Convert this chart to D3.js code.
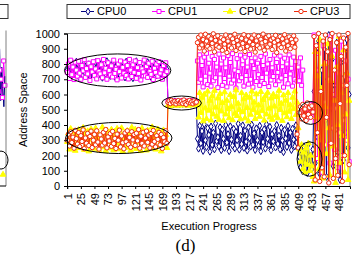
<!DOCTYPE html>
<html><head><meta charset="utf-8">
<script src="https://cdn.jsdelivr.net/npm/d3@7"></script>
<style>body{margin:0;background:#fff}svg{display:block}</style>
</head><body>
<svg id="chart" width="352" height="256"></svg>
<script>
const seriesNames = ["CPU0", "CPU1", "CPU2", "CPU3"];
const xTickLabels = [1,25,49,73,97,121,145,169,193,217,241,265,289,313,337,361,385,409,433,457,481];
const yTickValues = [0,100,200,300,400,500,600,700,800,900,1000];

// samples taken every 2 steps of execution progress (1,3,5,...,499)
const cpu0 = [
760,735,790,712,805,748,770,728,815,742,
795,705,780,760,725,810,738,772,750,798,
715,785,745,768,730,812,755,720,790,740,
802,710,775,758,733,818,747,765,722,795,
740,808,716,780,752,737,800,726,770,745,
790,712,815,758,730,784,748,770,707,796,
742,818,732,765,755,788,720,803,745,776,
730,812,750,768,715,794,738,806,758,725,
782,746,772,735,800,718,790,752,765,
545,538,552,541,548,536,555,543,540,550,
537,547,553,539,544,551,535,546,549,542,
538,554,545,540,548,543,
310,245,395,280,360,230,405,300,255,380,
335,225,390,270,350,240,410,295,320,260,
385,235,370,310,250,400,285,340,228,392,
305,265,375,245,355,300,408,238,330,275,
398,250,362,290,232,385,315,258,402,270,
345,236,378,300,262,395,228,350,288,372,
245,405,310,268,388,234,340,292,360,252,
400,276,330,240,382,298,222,368,312,256,
394,282,350,236,376,304,260,398,318,
250,190,120,230,95,260,150,210,85,275,
140,200,110,240,
620,150,880,320,950,80,540,760,210,900,
430,60,700,990,280,510,830,130,660,370,
940,220,580,40,810,460,170,720,350,960,
250,600];

const cpu1 = [
745,800,705,825,730,780,698,812,760,720,
818,740,700,790,755,828,712,770,735,805,
692,782,748,815,725,768,702,822,752,735,
795,710,830,742,772,700,808,758,728,788,
715,825,738,765,696,800,750,820,708,778,
740,812,725,790,702,830,760,718,795,745,
820,706,776,738,810,695,768,748,826,722,
784,712,805,752,732,818,698,772,745,800,
720,815,740,762,700,790,730,808,750,
556,548,560,542,552,545,558,540,550,555,
538,553,547,561,543,549,557,541,554,546,
559,544,551,548,556,552,
820,680,860,700,790,650,845,720,870,665,
805,740,655,850,690,830,710,780,645,865,
735,800,660,840,705,775,650,855,720,810,
675,868,695,760,642,835,750,690,858,710,
795,655,845,725,780,668,862,700,815,648,
770,840,685,805,730,660,850,712,790,672,
866,740,800,652,830,695,775,718,858,664,
810,745,690,852,708,782,648,838,725,800,
670,860,735,772,655,845,700,815,688,
780,690,840,660,760,510,470,525,445,500,
480,535,455,515,
990,420,760,180,870,330,640,90,920,550,
270,810,460,700,150,980,380,600,240,890,
510,120,740,350,950,200,660,430,820,300,
700,160];

const cpu2 = [
290,345,240,375,310,260,355,232,330,280,
368,250,320,295,382,238,340,270,360,228,
305,372,262,335,245,378,300,350,236,322,
275,385,255,342,230,365,290,315,248,370,
328,235,358,284,376,242,312,264,380,226,
338,296,252,362,274,348,232,384,306,258,
370,244,326,286,352,230,378,268,340,300,
234,364,278,330,250,386,292,356,240,318,
372,262,344,228,310,366,282,336,250,
530,542,526,548,535,528,545,532,538,527,
550,533,540,529,546,536,531,544,527,539,
534,548,530,541,537,532,
530,450,610,480,580,425,600,510,440,620,
495,560,430,590,470,625,515,455,575,435,
605,490,545,428,615,470,560,505,445,598,
520,432,585,475,628,460,540,500,438,610,
485,570,445,595,512,425,580,468,620,498,
548,440,602,480,530,455,618,492,565,430,
590,470,612,508,450,575,435,600,522,462,
585,445,625,500,540,428,595,478,560,452,
610,488,530,440,580,505,620,466,548,
380,240,160,270,110,220,90,250,140,280,
100,200,130,60,
30,880,450,720,110,960,300,640,50,800,
520,210,930,380,70,690,850,260,560,20,
780,400,980,150,610,330,890,90,470,740,
40,560];

const cpu3 = [
300,340,262,355,285,320,248,365,310,275,
350,258,330,292,368,245,315,280,345,265,
325,360,252,300,338,270,362,288,242,335,
308,268,352,282,370,250,322,295,344,260,
358,278,312,246,340,300,366,256,328,284,
244,348,290,362,272,318,254,356,302,338,
266,346,296,370,248,326,280,352,262,314,
360,286,334,250,344,274,364,292,256,330,
306,352,270,338,246,318,290,362,280,
548,558,540,562,550,545,556,538,553,560,
543,551,557,541,564,547,535,555,549,561,
544,553,539,558,546,550,
940,975,905,990,925,960,885,995,950,915,
980,900,965,935,998,880,955,920,985,910,
945,972,890,960,930,990,875,950,918,982,
905,965,940,995,888,955,925,978,900,968,
935,992,882,958,915,985,945,898,970,928,
990,878,952,920,982,905,962,938,996,890,
948,975,912,985,930,958,895,970,942,988,
875,955,925,980,908,965,935,992,885,950,
920,978,900,962,940,985,910,958,340,
250,480,520,440,535,460,505,430,545,470,
515,450,525,485,
980,40,920,350,1000,30,620,120,950,60,
990,450,880,20,960,280,1000,50,760,180,
940,70,990,540,850,30,970,200,910,660,
1000,140];

// highlighted regions: centre (progress, address) and half-extents
const ellipseCx = [90, 92, 203, 431, 429];
const ellipseCy = [758, 315, 544, 479, 177];
const ellipseRx = [94, 94, 35, 21, 22];
const ellipseRy = [108, 102, 46, 75, 113];

// neighbouring panel (c), only its right edge is visible
const panelCPink = [840, 620, 760, 700, 580, 820, 660];
const panelCBlue = [900, 560, 780, 640, 520, 720];

const svg = d3.select("#chart");
const font = "'Liberation Sans', Arial, sans-serif";
const L = 67, R = 350, T = 33.5, B = 186;
const x = d3.scaleLinear().domain([0.5, 500.5]).range([L, R]);
const y = d3.scaleLinear().domain([0, 1000]).range([B, T]);

const colors = ["#000080", "#ff00ff", "#ffff00", "#f02a0a"];
const symbols = [d3.symbolDiamond, d3.symbolSquare, d3.symbolTriangle, d3.symbolCircle];
const symSize = [14, 16, 14, 15];
const fills = ["#ffffff", "#ffffff", "#ffff00", "#ffffff"];
const data = [cpu0, cpu1, cpu2, cpu3];

// ---- partial panel (c) on the left edge
const pc = svg.append("g");
const xc = d3.scaleLinear().domain([0, 6]).range([-3, 5]);
pc.append("path").attr("d", d3.line().x((d,i)=>xc(i)).y(d=>y(d))(panelCPink))
  .attr("fill","none").attr("stroke","#ff00ff");
pc.append("path").attr("d", d3.line().x((d,i)=>xc(i)*0.8+2).y(d=>y(d))(panelCBlue))
  .attr("fill","none").attr("stroke","#000080");
pc.selectAll("path.pm").data(panelCPink).join("path")
  .attr("transform",(d,i)=>`translate(${xc(i)},${y(d)})`)
  .attr("d", d3.symbol(d3.symbolSquare, 16)).attr("fill","#fff").attr("stroke","#ff00ff");
pc.append("line").attr("x1",6).attr("x2",6).attr("y1",T-3).attr("y2",B).attr("stroke","#808080");
pc.append("line").attr("x1",-1).attr("x2",6).attr("y1",B).attr("y2",B).attr("stroke","#000");
pc.append("ellipse").attr("cx",1).attr("cy",y(170)).attr("rx",7).attr("ry",9)
  .attr("fill","none").attr("stroke","#000");
pc.append("path").attr("transform",`translate(3,${y(75)})`).attr("d", d3.symbol(d3.symbolTriangle, 14)())
  .attr("fill","#ffff00").attr("stroke","#ffff00");
pc.append("rect").attr("x",-20).attr("y",4.5).attr("width",28).attr("height",14)
  .attr("fill","none").attr("stroke","#333");

// ---- plot area border
svg.append("line").attr("x1",L).attr("x2",R).attr("y1",T).attr("y2",T).attr("stroke","#808080");
svg.append("line").attr("x1",R).attr("x2",R).attr("y1",T).attr("y2",B).attr("stroke","#808080");

// ---- series
data.forEach((vals, s) => {
  const g = svg.append("g");
  g.append("path")
    .attr("d", d3.line().x((d,i)=>x(2*i+1)).y(d=>y(d))(vals))
    .attr("fill","none").attr("stroke",colors[s]).attr("stroke-width",1);
  g.selectAll("path.m").data(vals).join("path").attr("class","m")
    .attr("transform",(d,i)=>`translate(${x(2*i+1)},${y(d)})`)
    .attr("d", d3.symbol(symbols[s], symSize[s]))
    .attr("fill",fills[s]).attr("stroke",colors[s]).attr("stroke-width",1);
});

// ---- ellipses
svg.append("g").selectAll("ellipse").data(ellipseCx).join("ellipse")
  .attr("cx",(d)=>x(d)).attr("cy",(d,i)=>y(ellipseCy[i]))
  .attr("rx",(d,i)=>x(ellipseRx[i]) - x(0))
  .attr("ry",(d,i)=>y(0) - y(ellipseRy[i]))
  .attr("fill","none").attr("stroke","#000").attr("stroke-width",1);

// ---- axes
const yAxis = svg.append("g").attr("transform",`translate(${L},0)`)
  .call(d3.axisLeft(y).tickValues(yTickValues).tickSize(3).tickPadding(4).tickFormat(d3.format("d")));
yAxis.select(".domain").attr("stroke","#000");
yAxis.selectAll("text").attr("font-family",font).attr("font-size",11).attr("fill","#000");

const xAxis = svg.append("g").attr("transform",`translate(0,${B})`)
  .call(d3.axisBottom(x).tickValues(xTickLabels).tickSize(3).tickFormat(d3.format("d")));
xAxis.select(".domain").attr("stroke","#000");
xAxis.selectAll("text").attr("font-family",font).attr("font-size",11).attr("fill","#000")
  .attr("transform","rotate(-90)").attr("text-anchor","end")
  .attr("x",-7).attr("y",0).attr("dy","0.35em");

svg.append("text").attr("transform",`translate(23,${(T+B)/2}) rotate(-90)`)
  .attr("text-anchor","middle").attr("dy","0.35em")
  .attr("font-family",font).attr("font-size",11).text("Address Space");
svg.append("text").attr("x",209).attr("y",230).attr("text-anchor","middle")
  .attr("font-family",font).attr("font-size",11).text("Execution Progress");
svg.append("text").attr("x",185.5).attr("y",251).attr("text-anchor","middle")
  .attr("font-family","'Liberation Serif', 'Times New Roman', serif").attr("font-size",17).text("(d)");

// ---- legend
const lg = svg.append("g");
lg.append("rect").attr("x",L).attr("y",4.5).attr("width",R-L).attr("height",14)
  .attr("fill","#fff").attr("stroke","#333");
const legX = d3.scalePoint().domain(seriesNames).range([88, 301]);
seriesNames.forEach((n, s) => {
  const cx = legX(n);
  lg.append("line").attr("x1",cx-7).attr("x2",cx+6).attr("y1",11.5).attr("y2",11.5)
    .attr("stroke",colors[s]);
  lg.append("path").attr("transform",`translate(${cx},11.5)`)
    .attr("d", d3.symbol(symbols[s], symSize[s])())
    .attr("fill",fills[s]).attr("stroke",colors[s]);
  lg.append("text").attr("x",cx+9).attr("y",11.5).attr("dy","0.35em")
    .attr("font-family",font).attr("font-size",11).text(n);
});
</script>
</body></html>
